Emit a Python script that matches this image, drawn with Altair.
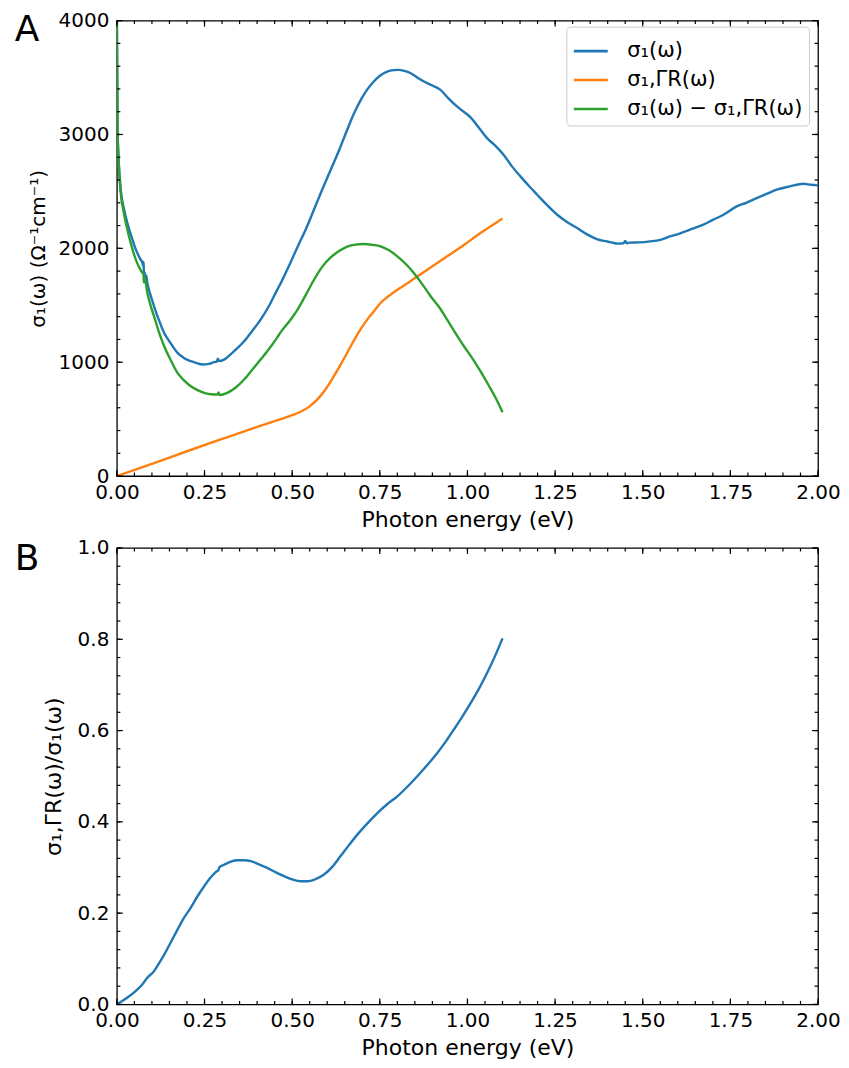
import altair as alt
import pandas as pd

# ---------------- data ----------------
names = ["σ₁(ω)", "σ₁,ΓR(ω)", "σ₁(ω) − σ₁,ΓR(ω)"]
colors = ["#1f77b4", "#ff7f0e", "#2ca02c"]

blue_e = [0.0, 0.002, 0.005, 0.011, 0.020, 0.030, 0.042, 0.054, 0.066, 0.073, 0.075, 0.0765, 0.077,
          0.079, 0.082, 0.084, 0.087, 0.095, 0.106, 0.120, 0.135, 0.155, 0.173, 0.190, 0.211, 0.230,
          0.244, 0.262, 0.277, 0.285, 0.288, 0.291, 0.306, 0.330, 0.363, 0.385, 0.410, 0.435, 0.458,
          0.470, 0.496, 0.515, 0.540, 0.562, 0.585, 0.610, 0.635, 0.657, 0.675, 0.695, 0.715, 0.733,
          0.752, 0.771, 0.790, 0.804, 0.820, 0.838, 0.857, 0.876, 0.900, 0.923, 0.945, 0.970, 1.009,
          1.037, 1.056, 1.080, 1.103, 1.127, 1.151, 1.175, 1.199, 1.227, 1.256, 1.285, 1.313, 1.340,
          1.369, 1.390, 1.407, 1.431, 1.445, 1.450, 1.455, 1.464, 1.490, 1.521, 1.550, 1.578, 1.605,
          1.635, 1.673, 1.700, 1.730, 1.768, 1.795, 1.825, 1.855, 1.882, 1.920, 1.958, 1.980, 2.000]
blue_s = [4000, 3050, 2780, 2515, 2350, 2222, 2100, 1991, 1910, 1871, 1845, 1880, 1770,
          1790, 1745, 1760, 1696, 1600, 1491, 1370, 1257, 1160, 1082, 1040, 1009, 990,
          980, 985, 1000, 1005, 1030, 1010, 1023, 1085, 1184, 1270, 1374, 1500, 1640,
          1710, 1880, 2010, 2175, 2339, 2510, 2690, 2870, 3041, 3175, 3300, 3398, 3465,
          3520, 3553, 3565, 3567, 3558, 3538, 3500, 3465, 3430, 3392, 3320, 3246, 3150,
          3041, 2968, 2900, 2822, 2720, 2632, 2550, 2471, 2380, 2295, 2230, 2178, 2125,
          2082, 2065, 2055, 2041, 2045, 2065, 2045, 2050, 2052, 2061, 2075, 2105, 2130,
          2164, 2208, 2250, 2295, 2368, 2400, 2441, 2480, 2515, 2544, 2567, 2558, 2553]

orange_e = [0.0, 0.100, 0.200, 0.300, 0.400, 0.467, 0.500, 0.524, 0.550, 0.572, 0.595, 0.619, 0.643,
            0.667, 0.690, 0.714, 0.735, 0.752, 0.775, 0.800, 0.830, 0.857, 0.900, 0.942, 0.990,
            1.037, 1.070, 1.100]
orange_s = [0, 108, 218, 326, 432, 500, 535, 565, 612, 673, 760, 877, 1005,
            1140, 1265, 1374, 1455, 1520, 1580, 1637, 1695, 1754, 1842, 1930, 2030,
            2134, 2200, 2262]

green_e = [0.0, 0.002, 0.005, 0.011, 0.020, 0.030, 0.042, 0.054, 0.066, 0.073, 0.076, 0.077, 0.079,
           0.087, 0.095, 0.106, 0.120, 0.135, 0.155, 0.173, 0.190, 0.211, 0.230, 0.249, 0.270,
           0.287, 0.290, 0.293, 0.315, 0.340, 0.363, 0.385, 0.410, 0.435, 0.458, 0.467, 0.496,
           0.515, 0.540, 0.562, 0.585, 0.610, 0.635, 0.657, 0.680, 0.705, 0.730, 0.752, 0.775,
           0.800, 0.825, 0.847, 0.870, 0.895, 0.920, 0.942, 0.965, 0.990, 1.015, 1.037, 1.060,
           1.080, 1.100]
green_s = [4000, 3050, 2770, 2486, 2310, 2164, 2020, 1901, 1820, 1784, 1775, 1700, 1740,
           1608, 1510, 1404, 1265, 1140, 1010, 906, 845, 789, 755, 731, 718,
           716, 735, 712, 731, 780, 848, 930, 1023, 1120, 1220, 1262, 1375,
           1460, 1598, 1722, 1835, 1920, 1978, 2015, 2033, 2038, 2030, 2018, 1985,
           1930, 1860, 1784, 1690, 1579, 1480, 1374, 1260, 1140, 1030, 921, 800,
           690, 561]

ratio_e = [0.0, 0.030, 0.050, 0.073, 0.085, 0.106, 0.120, 0.135, 0.155, 0.173, 0.190, 0.211, 0.230,
           0.249, 0.265, 0.282, 0.290, 0.292, 0.306, 0.325, 0.344, 0.362, 0.382, 0.405, 0.429,
           0.452, 0.477, 0.500, 0.524, 0.545, 0.565, 0.590, 0.615, 0.638, 0.662, 0.686, 0.714,
           0.743, 0.770, 0.800, 0.830, 0.857, 0.886, 0.914, 0.940, 0.961, 0.985, 1.009, 1.033,
           1.056, 1.078, 1.100]
ratio_r = [0.0, 0.015, 0.027, 0.044, 0.057, 0.073, 0.090, 0.109, 0.138, 0.164, 0.188, 0.212, 0.237,
           0.259, 0.276, 0.290, 0.295, 0.300, 0.306, 0.313, 0.316, 0.316, 0.314, 0.307, 0.299,
           0.290, 0.281, 0.274, 0.270, 0.270, 0.274, 0.284, 0.302, 0.325, 0.349, 0.372, 0.396,
           0.419, 0.438, 0.456, 0.478, 0.500, 0.525, 0.551, 0.578, 0.602, 0.630, 0.660, 0.692,
           0.726, 0.762, 0.802]

x_major = [0.0, 0.25, 0.5, 0.75, 1.0, 1.25, 1.5, 1.75, 2.0]
x_minor = [round(0.05 * i, 2) for i in range(41)]
ya_major = [0, 1000, 2000, 3000, 4000]
ya_minor = list(range(0, 4001, 200))
yb_major = [0.0, 0.2, 0.4, 0.6, 0.8, 1.0]
yb_minor = [round(0.04 * i, 2) for i in range(26)]

# ---------------- layout constants ----------------
W, HA, HB = 702, 456, 457
MAJ, MIN = 6, 3.5
FONT = "DejaVu Sans"
FS = 20

df_a = pd.concat([
    pd.DataFrame({"E": blue_e, "S": blue_s, "series": names[0]}),
    pd.DataFrame({"E": orange_e, "S": orange_s, "series": names[1]}),
    pd.DataFrame({"E": green_e, "S": green_s, "series": names[2]}),
], ignore_index=True)
df_b = pd.DataFrame({"E": ratio_e, "S": ratio_r})

xscale = alt.Scale(domain=[0, 2], nice=False, zero=False)


def xaxis():
    return alt.Axis(values=x_major, format=".2f", ticks=False, domain=False, grid=False,
                    labelFontSize=FS, labelPadding=6, labelOverlap=False, labelFlush=False,
                    title="Photon energy (eV)", titleFontSize=22, titlePadding=7,
                    titleFontWeight="normal")


def tick_layers(H, yscale, ymaj, ymin):
    out = []
    for vals, ln in ((x_major, MAJ), (x_minor, MIN)):
        d = pd.DataFrame({"E": vals})
        out.append(alt.Chart(d).mark_rule(color="black", strokeWidth=1.2).encode(
            x=alt.X("E:Q", scale=xscale), y=alt.value(H), y2=alt.value(H - ln)))
        out.append(alt.Chart(d).mark_rule(color="black", strokeWidth=1.2).encode(
            x=alt.X("E:Q", scale=xscale), y=alt.value(0), y2=alt.value(ln)))
    for vals, ln in ((ymaj, MAJ), (ymin, MIN)):
        d = pd.DataFrame({"S": vals})
        out.append(alt.Chart(d).mark_rule(color="black", strokeWidth=1.2).encode(
            y=alt.Y("S:Q", scale=yscale), x=alt.value(0), x2=alt.value(ln)))
        out.append(alt.Chart(d).mark_rule(color="black", strokeWidth=1.2).encode(
            y=alt.Y("S:Q", scale=yscale), x=alt.value(W), x2=alt.value(W - ln)))
    return out


def letter(t, ybase):
    return alt.Chart(pd.DataFrame({"t": [t]})).mark_text(
        fontSize=36, font=FONT, align="center", baseline="alphabetic", color="black"
    ).encode(text="t:N", x=alt.value(-90), y=alt.value(ybase))


# ---------------- panel A ----------------
ya_scale = alt.Scale(domain=[0, 4000], nice=False)
lines_a = alt.Chart(df_a).mark_line(strokeWidth=2.4, clip=True, interpolate="monotone").encode(
    x=alt.X("E:Q", scale=xscale, axis=xaxis()),
    y=alt.Y("S:Q", scale=ya_scale,
            axis=alt.Axis(values=ya_major, format="d", ticks=False, domain=False, grid=False,
                          labelFontSize=FS, labelPadding=8,
                          title="σ₁(ω) (Ω⁻¹cm⁻¹)", titleFontSize=FS, titlePadding=10,
                          titleFontWeight="normal")),
    color=alt.Color("series:N", scale=alt.Scale(domain=names, range=colors),
                    legend=alt.Legend(orient="none", legendX=450, legendY=6, title=None,
                                      symbolType="stroke", symbolSize=1156, symbolStrokeWidth=2.6,
                                      labelFontSize=21, labelFont=FONT, labelLimit=400,
                                      labelOffset=18, rowPadding=0, padding=6,
                                      fillColor="white", strokeColor="#cccccc",
                                      cornerRadius=4)),
)
panel_a = alt.layer(lines_a, *tick_layers(HA, ya_scale, ya_major, ya_minor),
                    letter("A", 20)).properties(width=W, height=HA)

# ---------------- panel B ----------------
yb_scale = alt.Scale(domain=[0, 1], nice=False)
line_b = alt.Chart(df_b).mark_line(strokeWidth=2.4, color="#1f77b4", interpolate="monotone").encode(
    x=alt.X("E:Q", scale=xscale, axis=xaxis()),
    y=alt.Y("S:Q", scale=yb_scale,
            axis=alt.Axis(values=yb_major, format=".1f", ticks=False, domain=False, grid=False,
                          labelFontSize=FS, labelPadding=8,
                          title="σ₁,ΓR(ω)/σ₁(ω)", titleFontSize=22, titlePadding=12,
                          titleFontWeight="normal")),
)
panel_b = alt.layer(line_b, *tick_layers(HB, yb_scale, yb_major, yb_minor),
                    letter("B", 22)).properties(width=W, height=HB)

chart = alt.vconcat(panel_a, panel_b, spacing=6).properties(
    padding={"left": 6, "top": 1, "right": 0, "bottom": 0}
).configure_view(stroke="black", strokeWidth=1.3).configure_axis(
    labelFont=FONT, titleFont=FONT, labelColor="black", titleColor="black"
)

chart.save("out.html", embed_options={"renderer": "svg", "actions": False})
